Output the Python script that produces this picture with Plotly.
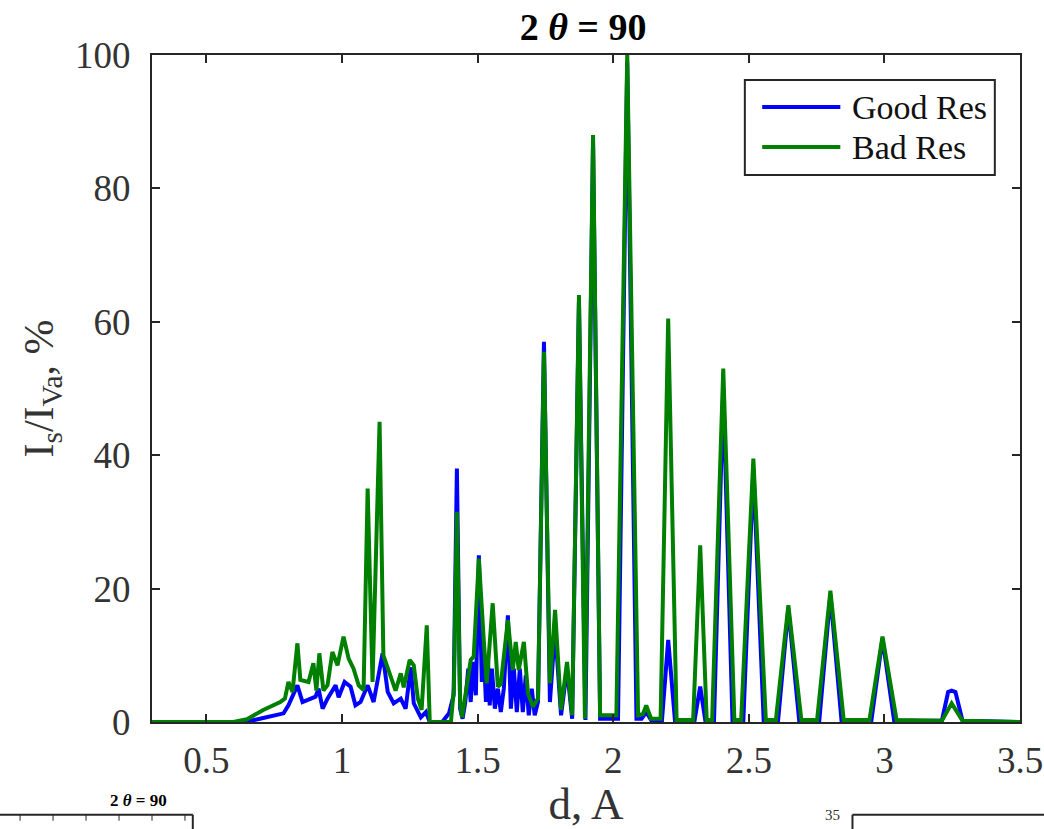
import plotly.graph_objects as go

# ---- data (d in Angstrom, intensity in %) ----
bad_d = [0.30, 0.60, 0.65, 0.71, 0.773, 0.79, 0.803, 0.818, 0.836, 0.847, 0.877, 0.895, 0.906,
         0.917, 0.932, 0.947, 0.965, 0.984, 1.006, 1.025, 1.043, 1.062, 1.080, 1.095, 1.113,
         1.139, 1.153, 1.180, 1.198, 1.217, 1.228, 1.250, 1.265, 1.280, 1.294, 1.313, 1.324,
         1.402, 1.413, 1.424, 1.436, 1.443, 1.475, 1.486, 1.505, 1.523, 1.534, 1.556, 1.575,
         1.586, 1.612, 1.630, 1.641, 1.652, 1.671, 1.686, 1.704, 1.723, 1.745, 1.767, 1.786,
         1.808, 1.830, 1.849, 1.874, 1.896, 1.926, 1.952, 1.990, 2.012, 2.052, 2.092, 2.110,
         2.122, 2.140, 2.175, 2.203, 2.234, 2.295, 2.321, 2.345, 2.365, 2.406, 2.447, 2.472,
         2.517, 2.563, 2.600, 2.646, 2.694, 2.752, 2.801, 2.850, 2.945, 2.993, 3.045, 3.212,
         3.248, 3.288, 3.50]
bad_i = [0, 0, 0.4, 1.8, 3.0, 3.5, 6.0, 4.5, 11.8, 6.3, 6.0, 8.8, 4.7,
         10.3, 4.7, 5.5, 10.5, 8.5, 12.8, 9.5, 8.0, 5.5, 4.8, 35.0, 6.0,
         45.0, 10.0, 7.0, 4.7, 7.3, 5.2, 9.3, 8.5, 3.5, 1.8, 14.5, 0,
         0, 5.0, 31.5, 3.0, 0.7, 9.3, 9.8, 24.5, 12.3, 5.8, 17.8, 5.3,
         5.7, 15.3, 7.8, 12.0, 7.8, 12.0, 4.3, 2.3, 3.5, 55.5, 5.8, 16.8,
         1.8, 9.0, 1.0, 64.0, 0.5, 88.0, 1.0, 1.0, 1.0, 100.0, 1.0, 1.2,
         2.5, 0.5, 0.5, 60.5, 0.3, 0.3, 26.5, 0.3, 0.3, 53.0, 0.3, 0.3,
         39.5, 0.3, 0.3, 17.5, 0.3, 0.3, 19.7, 0.3, 0.3, 12.8, 0.3, 0.2,
         2.8, 0.2, 0]

good_d = [0.30, 0.645, 0.71, 0.785, 0.803, 0.836, 0.855, 0.877, 0.903, 0.914, 0.929, 0.947,
          0.977, 0.988, 1.010, 1.032, 1.050, 1.069, 1.095, 1.117, 1.150, 1.169, 1.191, 1.217,
          1.235, 1.254, 1.265, 1.291, 1.310, 1.324, 1.370, 1.395, 1.412, 1.424, 1.436, 1.445,
          1.455, 1.466, 1.475, 1.483, 1.494, 1.505, 1.516, 1.523, 1.531, 1.538, 1.545, 1.553,
          1.564, 1.575, 1.586, 1.597, 1.612, 1.623, 1.634, 1.645, 1.656, 1.667, 1.678, 1.689,
          1.700, 1.711, 1.723, 1.745, 1.767, 1.786, 1.808, 1.830, 1.849, 1.874, 1.898, 1.926,
          1.952, 1.990, 2.018, 2.052, 2.086, 2.105, 2.122, 2.140, 2.180, 2.203, 2.228, 2.300,
          2.321, 2.340, 2.372, 2.406, 2.440, 2.480, 2.517, 2.555, 2.608, 2.646, 2.686, 2.760,
          2.801, 2.842, 2.952, 2.993, 3.036, 3.212, 3.235, 3.248, 3.262, 3.288, 3.50]
good_i = [0, 0, 0.6, 1.3, 2.5, 5.5, 3.0, 3.3, 3.8, 5.0, 2.0, 3.5,
          5.5, 3.7, 6.0, 5.3, 2.5, 3.0, 5.5, 3.0, 10.3, 4.5, 2.8, 3.5,
          2.0, 8.2, 2.8, 0.7, 1.5, 0, 0, 1.3, 4.0, 38.0, 2.0, 0.5,
          3.0, 8.0, 3.0, 9.0, 4.0, 25.0, 6.0, 11.0, 3.0, 10.0, 2.5, 8.0,
          2.0, 5.0, 1.5, 5.0, 16.0, 2.0, 8.0, 1.5, 8.0, 1.5, 7.0, 1.0,
          5.0, 1.0, 3.0, 57.0, 3.0, 14.0, 1.0, 8.0, 0.5, 63.0, 0.3, 87.0,
          0.5, 0.5, 0.5, 99.0, 0.5, 0.5, 1.5, 0.3, 0.2, 12.3, 0.2, 0.2,
          5.3, 0.2, 0.2, 50.0, 0.2, 0.2, 38.0, 0.2, 0.2, 17.0, 0.2, 0.2,
          19.0, 0.2, 0.2, 12.5, 0.2, 0.2, 4.5, 4.7, 4.5, 0.2, 0]

series_names = ["Good Res", "Bad Res"]
series_colors = ["#0000ff", "#008000"]

x_ticks = [0.5, 1, 1.5, 2, 2.5, 3, 3.5]
x_ticklabels = ["0.5", "1", "1.5", "2", "2.5", "3", "3.5"]
y_ticks = [0, 20, 40, 60, 80, 100]

FONT = "Liberation Serif"
AXC = "#262626"
TXT = "#333333"

fig = go.Figure()
fig.add_trace(go.Scatter(x=good_d, y=good_i, mode="lines", name=series_names[0],
                         line=dict(color=series_colors[0], width=4), showlegend=False))
fig.add_trace(go.Scatter(x=bad_d, y=bad_i, mode="lines", name=series_names[1],
                         line=dict(color=series_colors[1], width=4), showlegend=False))

fig.update_layout(
    width=1044, height=829,
    margin=dict(l=152, r=24, t=55, b=107, autoexpand=False),
    paper_bgcolor="white", plot_bgcolor="white",
    font=dict(family=FONT, color=TXT, size=34),
    title=dict(text="<b>2 <i>θ</i> = 90</b>", x=0.5585, xanchor="center",
               y=0.968, yanchor="middle", font=dict(family=FONT, size=38, color="black")),
    showlegend=False,
)

fig.update_xaxes(
    range=[0.3, 3.5], tickvals=x_ticks, ticktext=x_ticklabels,
    ticks="inside", ticklen=8, tickwidth=2, tickcolor=AXC,
    showline=True, linecolor=AXC, linewidth=2, mirror="ticks",
    showgrid=False, zeroline=False, ticklabelstandoff=5, automargin=False,
    tickfont=dict(family=FONT, size=37, color=TXT),
    title=dict(text="d, A", font=dict(family=FONT, size=45, color=TXT), standoff=16),
)
fig.update_yaxes(
    range=[0, 100], tickvals=y_ticks,
    ticks="inside", ticklen=8, tickwidth=2, tickcolor=AXC,
    showline=True, linecolor=AXC, linewidth=2, mirror="ticks",
    showgrid=False, zeroline=False, ticklabelstandoff=12, automargin=False,
    tickfont=dict(family=FONT, size=37, color=TXT),
    title=dict(text="I<sub>s</sub>/I<sub>Va</sub>, %", font=dict(family=FONT, size=42, color=TXT),
               standoff=8),
)

# legend box drawn in the MATLAB style (long line samples)
fig.add_shape(type="rect", xref="paper", yref="paper", x0=0.683, x1=0.971, y0=0.820, y1=0.9625,
              line=dict(color=AXC, width=2), fillcolor="white", layer="above")
for k, (nm, col) in enumerate(zip(series_names, series_colors)):
    yy = 0.922 - k * 0.060
    fig.add_shape(type="line", xref="paper", yref="paper", x0=0.703, x1=0.793, y0=yy, y1=yy,
                  line=dict(color=col, width=4), layer="above")
    fig.add_annotation(text=nm, xref="paper", yref="paper", x=0.804, y=yy, xanchor="left",
                       yanchor="middle", showarrow=False,
                       font=dict(family=FONT, size=34, color="#111111"))

# fragments of neighbouring panels visible at the bottom edge
fig.add_annotation(text="<b>2 <i>θ</i> = 90</b>", xref="paper", yref="paper",
                   x=-0.015, y=-0.118, xanchor="center", yanchor="middle", showarrow=False,
                   font=dict(family=FONT, size=17, color="black"))
fig.add_shape(type="line", xref="paper", yref="paper", x0=-0.18, x1=0.047,
              y0=-0.139, y1=-0.139, line=dict(color=AXC, width=2))
fig.add_shape(type="line", xref="paper", yref="paper", x0=0.047, x1=0.047,
              y0=-0.139, y1=-0.17, line=dict(color=AXC, width=2))
for tx in [-0.152, -0.114, -0.076, -0.038, 0.0, 0.038]:
    fig.add_shape(type="line", xref="paper", yref="paper", x0=tx, x1=tx,
                  y0=-0.139, y1=-0.148, line=dict(color=AXC, width=1))
fig.add_annotation(text="35", xref="paper", yref="paper", x=0.784, y=-0.139,
                   xanchor="center", yanchor="middle", showarrow=False,
                   font=dict(family=FONT, size=15, color=TXT))
fig.add_shape(type="line", xref="paper", yref="paper", x0=0.807, x1=1.04,
              y0=-0.139, y1=-0.139, line=dict(color=AXC, width=2))
fig.add_shape(type="line", xref="paper", yref="paper", x0=0.807, x1=0.807,
              y0=-0.139, y1=-0.17, line=dict(color=AXC, width=2))

fig.write_html("out.html")
